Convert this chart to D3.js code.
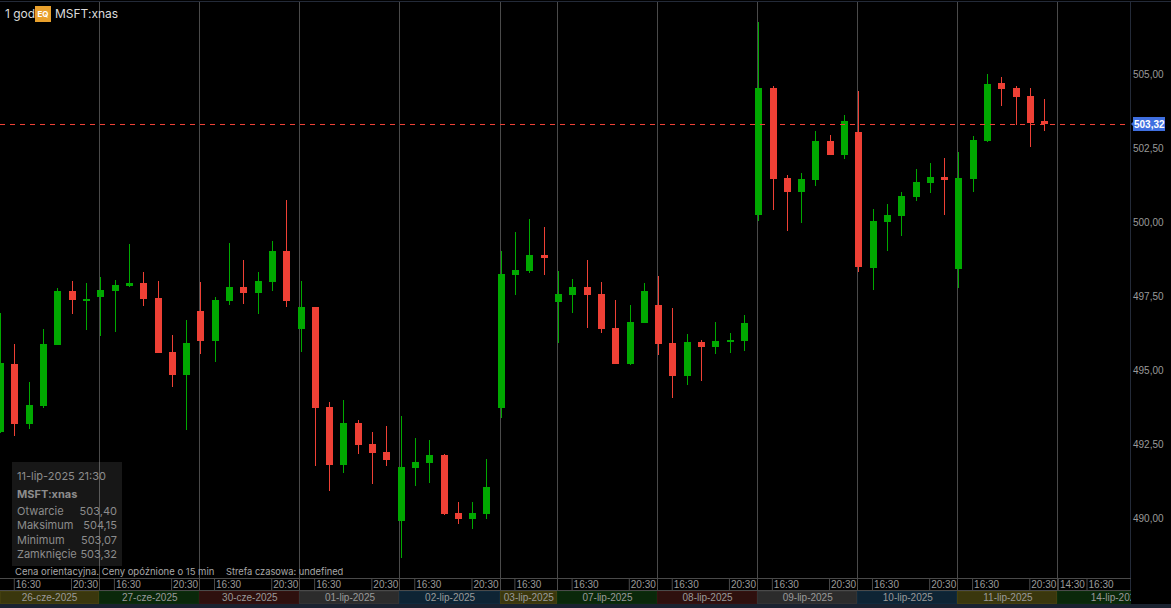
<!DOCTYPE html>
<html lang="pl">
<head>
<meta charset="UTF-8">
<title>MSFT:xnas</title>
<script src="https://d3js.org/d3.v7.min.js"></script>
<style>
    html, body { margin: 0; padding: 0; background: #000; overflow: hidden; }
    svg { display: block; }
    text { font-family: Inter, Roboto, sans-serif; }
    .axis text { font-family: "Liberation Sans", Arial, sans-serif; font-size: 10px; fill: #9a9a9a; }
    .axis .domain { display: none; }
</style>
</head>
<body>
<svg id="chart" width="1171" height="608"></svg>
<script>
// dane, 1 swieca = 1 godzina
const opens = [492.92,495.20,493.19,493.79,495.85,497.67,497.37,497.47,497.67,497.84,497.94,497.43,495.61,494.83,496.99,495.98,497.33,497.80,497.60,497.97,499.02,
    496.39,497.13,493.75,491.79,493.21,492.50,492.23,489.90,491.69,491.86,492.13,490.17,489.97,490.14,
    493.72,498.21,498.34,498.89,497.30,497.53,497.80,497.57,496.42,495.20,496.59,497.20,495.91,494.80,495.95,495.78,495.95,495.98,
    500.24,504.53,501.49,501.01,501.42,502.74,502.26,503.04,498.45,500.00,500.20,500.84,501.32,501.52,498.41,501.45,502.74,504.70,504.53,504.26,503.40];
const highs = [496.93,495.88,494.59,496.39,497.77,498.01,497.94,498.14,498.04,499.26,498.31,498.01,496.18,496.69,497.97,497.47,499.29,498.72,498.31,499.36,500.74,
    498.01,497.13,493.92,493.99,493.31,492.91,493.11,493.45,492.70,492.64,492.16,490.54,490.54,491.99,
    499.02,499.66,500.10,499.83,498.34,498.07,498.72,497.97,497.37,497.20,497.94,498.18,497.09,496.22,496.01,496.62,496.25,496.86,
    506.76,504.59,501.59,501.66,503.07,502.94,503.61,504.43,500.44,500.61,501.01,501.79,501.99,502.16,502.36,502.91,505.00,504.90,504.59,504.53,504.15];
const lows = [492.87,492.78,493.02,493.72,495.85,496.89,496.35,496.15,496.28,497.80,497.16,495.57,494.43,492.97,495.54,495.27,497.20,497.23,496.89,497.67,497.13,
    495.61,491.76,490.91,491.52,492.16,491.15,491.76,488.65,491.08,491.18,490.10,489.80,489.63,489.97,
    493.38,497.53,498.28,498.21,495.91,496.93,496.42,496.25,495.20,495.17,496.59,495.51,494.05,494.49,494.63,495.54,495.57,495.64,
    500.03,500.41,499.70,499.97,501.22,502.26,502.13,498.31,497.70,499.02,499.53,500.71,500.98,500.24,497.77,501.01,502.70,503.92,503.28,502.53,503.07];
const closes = [495.24,493.19,493.82,495.88,497.67,497.37,497.40,497.70,497.87,497.94,497.40,495.57,494.83,495.91,495.98,497.37,497.80,497.60,498.01,499.02,497.33,
    497.13,493.72,491.79,493.21,492.47,492.20,491.96,491.72,491.89,492.13,490.14,489.97,490.17,491.05,
    498.24,498.38,498.89,498.78,497.57,497.80,497.53,496.39,495.20,496.62,497.67,495.88,494.80,495.95,495.78,495.98,496.01,496.59,
    504.53,501.45,501.01,501.45,502.74,502.26,503.41,498.48,500.03,500.24,500.88,501.35,501.52,501.42,501.49,502.77,504.66,504.49,504.22,503.34,503.32];

const priceTicks = [490, 492.5, 495, 497.5, 500, 502.5, 505];
const lastPrice = 503.32;

// sesje: indeks pierwszej swiecy, etykieta, kolor paska
const sessionStarts = [0, 7, 14, 21, 28, 35, 39, 46, 53, 60, 67, 74];
const sessionLabels = ["26-cze-2025", "27-cze-2025", "30-cze-2025", "01-lip-2025", "02-lip-2025", "03-lip-2025",
    "07-lip-2025", "08-lip-2025", "09-lip-2025", "10-lip-2025", "11-lip-2025", "14-lip-2025"];
const sessionColors = ["#3a370d", "#0a280a", "#2e100e", "#2c2c2c", "#0e2434", "#3a370d",
    "#0a280a", "#2e100e", "#2c2c2c", "#0e2434", "#3a370d", "#0a280a"];
const lastSessionEnd = 82;

// znaczniki czasu na osi
const timeTicks = [1,5,8,12,15,19,22,26,29,33,36,40,44,47,51,54,58,61,65,68,72,74,76];
const timeLabels = ["16:30","20:30","16:30","20:30","16:30","20:30","16:30","20:30","16:30","20:30","16:30","16:30","20:30",
    "16:30","20:30","16:30","20:30","16:30","20:30","16:30","20:30","14:30","16:30"];

const infoRows = [["Otwarcie", "503,40"], ["Maksimum", "504,15"], ["Minimum", "503,07"], ["Zamknięcie", "503,32"]];

const width = 1171, plotRight = 1131, axisY = 578, bandTop = 591, bandBottom = 604;
const upColor = "#00a800", downColor = "#ee4035", lineColor = "#4a4a4a", frameColor = "#232a38";

const svg = d3.select("#chart");
const fmt = d => d.toFixed(2).replace(".", ",");

const x = d3.scaleLinear().domain([7, 73]).range([100.3, 1044.3]);
const y = d3.scaleLinear().domain([490, 505]).range([518, 74]);
const sepX = i => Math.round(x(i) - 1.2) + 0.5;

svg.append("defs").append("clipPath").attr("id", "plotClip")
    .append("rect").attr("width", plotRight).attr("height", 608);

// pionowe linie sesji
svg.append("g").selectAll("line")
    .data(sessionStarts.slice(1))
    .join("line")
    .attr("x1", sepX).attr("x2", sepX)
    .attr("y1", 2).attr("y2", bandTop)
    .attr("stroke", lineColor);

// swiece
const candles = svg.append("g").attr("clip-path", "url(#plotClip)")
    .selectAll("g")
    .data(opens.map((o, i) => ({ i, o, h: highs[i], l: lows[i], c: closes[i] })))
    .join("g")
    .attr("fill", d => d.c >= d.o ? upColor : downColor);

candles.append("rect")
    .attr("x", d => Math.round(x(d.i)))
    .attr("width", 1)
    .attr("y", d => Math.round(y(d.h)))
    .attr("height", d => Math.round(y(d.l)) - Math.round(y(d.h)));

candles.append("rect")
    .attr("x", d => Math.round(x(d.i)) - 3)
    .attr("width", 7)
    .attr("y", d => Math.round(y(Math.max(d.o, d.c))))
    .attr("height", d => Math.max(2, Math.round(y(Math.min(d.o, d.c))) - Math.round(y(Math.max(d.o, d.c)))));

// ostatnia cena
svg.append("line")
    .attr("x1", 0).attr("x2", plotRight - 1)
    .attr("y1", Math.round(y(lastPrice)) + 0.5).attr("y2", Math.round(y(lastPrice)) + 0.5)
    .attr("stroke", "#ee4035")
    .attr("stroke-dasharray", "5 5");

// os cen
const yAxis = d3.axisRight(y).tickValues(priceTicks).tickFormat(fmt).tickSize(0).tickPadding(2);
svg.append("g").attr("class", "axis")
    .attr("transform", `translate(${plotRight},0)`)
    .call(yAxis);

const tagY = Math.round(y(lastPrice));
svg.append("path")
    .attr("d", `M1131,${tagY} L1133,${tagY - 2} L1133,${tagY - 7} H1165 V${tagY + 7} H1133 V${tagY + 2} Z`)
    .attr("fill", "#3f6fe0");
svg.append("text")
    .attr("x", 1134).attr("y", tagY + 4)
    .attr("font-size", 10).attr("font-weight", 700)
    .attr("fill", "#fff")
    .style("font-family", "'Liberation Sans', Arial, sans-serif")
    .text(fmt(lastPrice));

// ramki
svg.append("line").attr("x1", 0).attr("x2", width).attr("y1", 1.5).attr("y2", 1.5).attr("stroke", frameColor);
svg.append("line").attr("x1", plotRight - 0.5).attr("x2", plotRight - 0.5).attr("y1", 2).attr("y2", 604).attr("stroke", frameColor);
svg.append("rect").attr("x", 0).attr("y", bandBottom).attr("width", width).attr("height", 608 - bandBottom).attr("fill", "#1a2230");

// os czasu
const bottom = svg.append("g").attr("clip-path", "url(#plotClip)");
bottom.append("line").attr("x1", 0).attr("x2", plotRight).attr("y1", axisY + 0.5).attr("y2", axisY + 0.5).attr("stroke", lineColor);
bottom.append("line").attr("x1", 0).attr("x2", plotRight).attr("y1", bandTop - 0.5).attr("y2", bandTop - 0.5).attr("stroke", lineColor);

const xAxis = d3.axisBottom(x).tickValues(timeTicks)
    .tickFormat((d, i) => timeLabels[i])
    .tickSize(bandTop - axisY).tickPadding(0);
const xg = bottom.append("g").attr("class", "axis")
    .attr("transform", `translate(-0.7,${axisY})`)
    .call(xAxis);
xg.selectAll(".tick line").attr("stroke", lineColor);
xg.selectAll(".tick text")
    .attr("text-anchor", "start")
    .attr("x", 1.5).attr("y", 3).attr("dy", "0.71em");

// paski dat
const bandEnd = i => i + 1 < sessionStarts.length ? x(sessionStarts[i + 1]) - 1.2 : x(lastSessionEnd);
const bands = bottom.append("g").selectAll("g").data(sessionLabels).join("g");
bands.append("rect")
    .attr("x", (d, i) => (i ? Math.round(x(sessionStarts[i]) - 1.2) : 0) + 0.5)
    .attr("y", bandTop + 0.5)
    .attr("width", (d, i) => Math.round(bandEnd(i)) - (i ? Math.round(x(sessionStarts[i]) - 1.2) : 0) - 1)
    .attr("height", bandBottom - bandTop - 1)
    .attr("fill", (d, i) => sessionColors[i])
    .attr("stroke", (d, i) => d3.color(sessionColors[i]).brighter(0.4));
bands.append("text")
    .attr("x", (d, i) => ((i ? x(sessionStarts[i]) : 0) + bandEnd(i)) / 2)
    .attr("y", 601)
    .attr("text-anchor", "middle")
    .attr("font-size", 10)
    .attr("fill", "#9a9a9a")
    .style("font-family", "'Liberation Sans', Arial, sans-serif")
    .text(d => d);

// naglowek
svg.append("text").attr("x", 5).attr("y", 18).attr("font-size", 12).attr("fill", "#dcdcdc").text("1 god");
svg.append("rect").attr("x", 35).attr("y", 6).attr("width", 16).attr("height", 16).attr("fill", "#e8a02c");
svg.append("text").attr("x", 43).attr("y", 17).attr("text-anchor", "middle").attr("font-size", 8).attr("font-weight", 700).attr("fill", "#fff").text("EQ");
svg.append("text").attr("x", 55).attr("y", 18).attr("font-size", 12).attr("fill", "#dcdcdc").text("MSFT:xnas");

// panel informacji
svg.append("rect").attr("x", 12).attr("y", 462).attr("width", 110).attr("height", 104).attr("fill", "#fff").attr("fill-opacity", 0.09);
const infoColor = "#8c8c8c";
svg.append("text").attr("x", 17).attr("y", 480).attr("font-size", 11).attr("fill", infoColor).text("11-lip-2025 21:30");
svg.append("text").attr("x", 17).attr("y", 498).attr("font-size", 11).attr("font-weight", 700).attr("fill", infoColor).text("MSFT:xnas");
const rows = svg.append("g").selectAll("g").data(infoRows).join("g")
    .attr("transform", (d, i) => `translate(0,${515 + i * 14.3})`);
rows.append("text").attr("x", 17).attr("font-size", 11).attr("fill", infoColor).text(d => d[0]);
rows.append("text").attr("x", 117).attr("text-anchor", "end").attr("font-size", 11).attr("fill", infoColor).text(d => d[1]);

svg.append("text").attr("x", 15).attr("y", 575).attr("font-size", 9.5).attr("fill", "#a8a8a8")
    .text("Cena orientacyjna. Ceny opóźnione o 15 min");
svg.append("text").attr("x", 226).attr("y", 575).attr("font-size", 9.3).attr("fill", "#a8a8a8")
    .text("Strefa czasowa: undefined");
</script>
</body>
</html>
